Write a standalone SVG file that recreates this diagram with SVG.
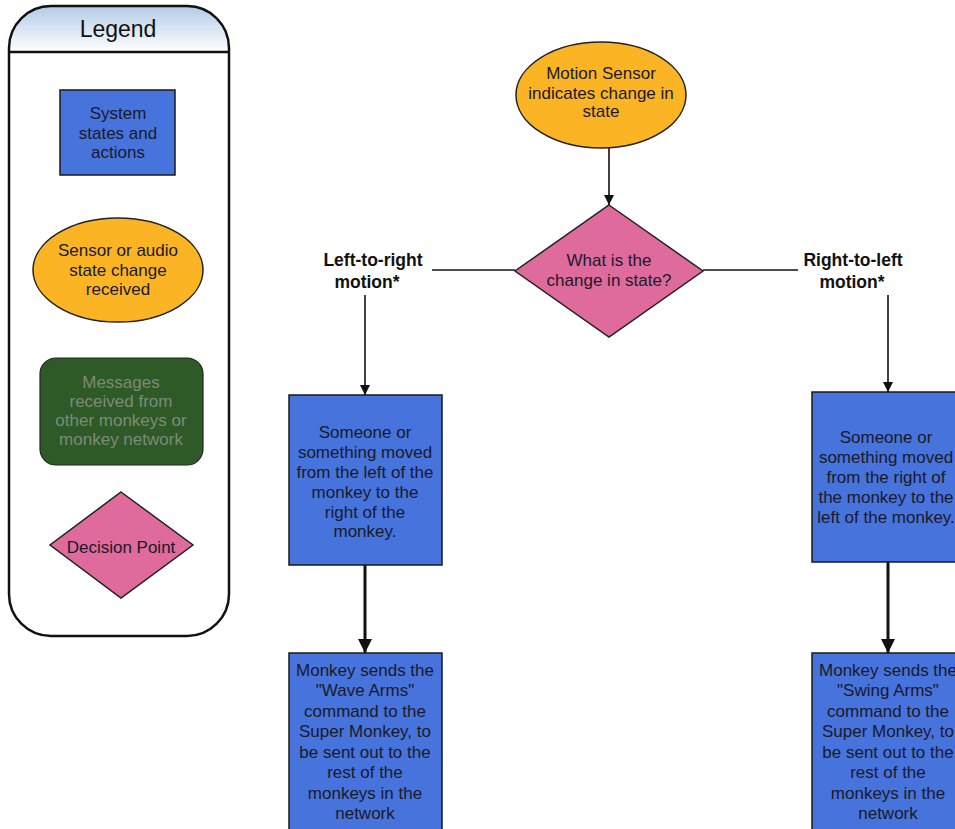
<svg xmlns="http://www.w3.org/2000/svg" width="955" height="829" viewBox="0 0 955 829">
<defs>
<linearGradient id="hdr" x1="0" y1="0" x2="0" y2="1">
<stop offset="0" stop-color="#b3cbe6"/>
<stop offset="1" stop-color="#ffffff"/>
</linearGradient>
<marker id="ah" viewBox="0 0 10 10" refX="10" refY="5" markerWidth="12" markerHeight="10" markerUnits="userSpaceOnUse" orient="auto">
<path d="M0,0 L10,5 L0,10 Z" fill="#111"/>
</marker>
<marker id="ahb" viewBox="0 0 10 10" refX="10" refY="5" markerWidth="16" markerHeight="14" markerUnits="userSpaceOnUse" orient="auto">
<path d="M0,0 L10,5 L0,10 Z" fill="#111"/>
</marker>
</defs>
<style>
.t{font-family:"Liberation Sans",Arial,sans-serif;font-size:17px;fill:#1a1a2a;text-anchor:middle}
.b{font-family:"Liberation Sans",Arial,sans-serif;font-size:17.5px;font-weight:bold;fill:#111;text-anchor:middle}
.blue{fill:#4673dc;stroke:#1a1a1a;stroke-width:1.5}
.orange{fill:#fbb424;stroke:#222;stroke-width:1.5}
.pink{fill:#df6b9c;stroke:#222;stroke-width:1.5}
.green{fill:#2e5a28;stroke:#222;stroke-width:1.2}
.ln{stroke:#111;stroke-width:1.6;fill:none}
.lt{stroke:#111;stroke-width:3;fill:none}
</style>
<rect width="955" height="829" fill="#ffffff"/>

<g id="legend">
<path d="M9,52 L9,48 A42,42 0 0 1 51,6 L187,6 A42,42 0 0 1 229,48 L229,52 Z" fill="url(#hdr)"/>
<path d="M9,48 A42,42 0 0 1 51,6 L187,6 A42,42 0 0 1 229,48 L229,594 A42,42 0 0 1 187,636 L51,636 A42,42 0 0 1 9,594 Z" fill="none" stroke="#111" stroke-width="2.5"/>
<line x1="9" y1="52" x2="229" y2="52" stroke="#111" stroke-width="2.5"/>
<text x="118" y="37" font-family="Liberation Sans,Arial,sans-serif" font-size="23" fill="#111" text-anchor="middle">Legend</text>
</g>

<g id="legend-system">
<rect x="60" y="90" width="115" height="85" class="blue"/>
<text class="t" x="118" y="119">System</text>
<text class="t" x="118" y="139">states and</text>
<text class="t" x="118" y="158">actions</text>
</g>

<g id="legend-sensor">
<ellipse cx="118" cy="270" rx="85" ry="52" class="orange"/>
<text class="t" x="118" y="256">Sensor or audio</text>
<text class="t" x="118" y="276">state change</text>
<text class="t" x="118" y="295">received</text>
</g>

<g id="legend-messages">
<rect x="40" y="358" width="163" height="107" rx="16" ry="16" class="green"/>
<text class="t" x="121" y="388" style="fill:#7d8a78">Messages</text>
<text class="t" x="121" y="407" style="fill:#7d8a78">received from</text>
<text class="t" x="121" y="426" style="fill:#7d8a78">other monkeys or</text>
<text class="t" x="121" y="445" style="fill:#7d8a78">monkey network</text>
</g>

<g id="legend-decision">
<path d="M121,492 L193,545 L121,598 L50,545 Z" class="pink"/>
<text class="t" x="121" y="553">Decision Point</text>
</g>

<g id="connectors">
<line x1="609" y1="148" x2="609" y2="205" class="ln" marker-end="url(#ah)"/>
<line x1="432" y1="270" x2="515" y2="270" class="ln"/>
<line x1="703" y1="270" x2="798" y2="270" class="ln"/>
<line x1="365" y1="295" x2="365" y2="395" class="ln" marker-end="url(#ah)"/>
<line x1="888" y1="295" x2="888" y2="392" class="ln" marker-end="url(#ah)"/>
<line x1="365" y1="565" x2="365" y2="653" class="lt" marker-end="url(#ahb)"/>
<line x1="888" y1="562" x2="888" y2="653" class="lt" marker-end="url(#ahb)"/>
</g>

<g id="motion-sensor">
<ellipse cx="601" cy="95" rx="85" ry="53" class="orange"/>
<text class="t" x="601" y="79">Motion Sensor</text>
<text class="t" x="601" y="99">indicates change in</text>
<text class="t" x="601" y="117">state</text>
</g>

<g id="decision">
<path d="M609,205 L703,271 L609,337 L515,271 Z" class="pink"/>
<text class="t" x="609" y="266">What is the</text>
<text class="t" x="609" y="286">change in state?</text>
</g>

<g id="label-left">
<text class="b" x="373" y="266">Left-to-right</text>
<text class="b" x="367" y="288">motion*</text>
</g>

<g id="label-right">
<text class="b" x="853" y="266">Right-to-left</text>
<text class="b" x="852" y="288">motion*</text>
</g>

<g id="left-moved">
<rect x="289" y="395" width="153" height="170" class="blue"/>
<text class="t" x="365" y="438">Someone or</text>
<text class="t" x="365" y="458">something moved</text>
<text class="t" x="365" y="478">from the left of the</text>
<text class="t" x="365" y="498">monkey to the</text>
<text class="t" x="365" y="518">right of the</text>
<text class="t" x="365" y="537">monkey.</text>
</g>

<g id="right-moved">
<rect x="812" y="392" width="152" height="170" class="blue"/>
<text class="t" x="886" y="443">Someone or</text>
<text class="t" x="886" y="463">something moved</text>
<text class="t" x="886" y="483">from the right of</text>
<text class="t" x="886" y="503">the monkey to the</text>
<text class="t" x="886" y="523">left of the monkey.</text>
</g>

<g id="left-send">
<rect x="289" y="653" width="153" height="185" class="blue"/>
<text class="t" x="365" y="676">Monkey sends the</text>
<text class="t" x="365" y="696">"Wave Arms"</text>
<text class="t" x="365" y="717">command to the</text>
<text class="t" x="365" y="737">Super Monkey, to</text>
<text class="t" x="365" y="758">be sent out to the</text>
<text class="t" x="365" y="778">rest of the</text>
<text class="t" x="365" y="799">monkeys in the</text>
<text class="t" x="365" y="819">network</text>
</g>

<g id="right-send">
<rect x="812" y="653" width="152" height="185" class="blue"/>
<text class="t" x="888" y="676">Monkey sends the</text>
<text class="t" x="888" y="696">"Swing Arms"</text>
<text class="t" x="888" y="717">command to the</text>
<text class="t" x="888" y="737">Super Monkey, to</text>
<text class="t" x="888" y="758">be sent out to the</text>
<text class="t" x="888" y="778">rest of the</text>
<text class="t" x="888" y="799">monkeys in the</text>
<text class="t" x="888" y="819">network</text>
</g>
</svg>
